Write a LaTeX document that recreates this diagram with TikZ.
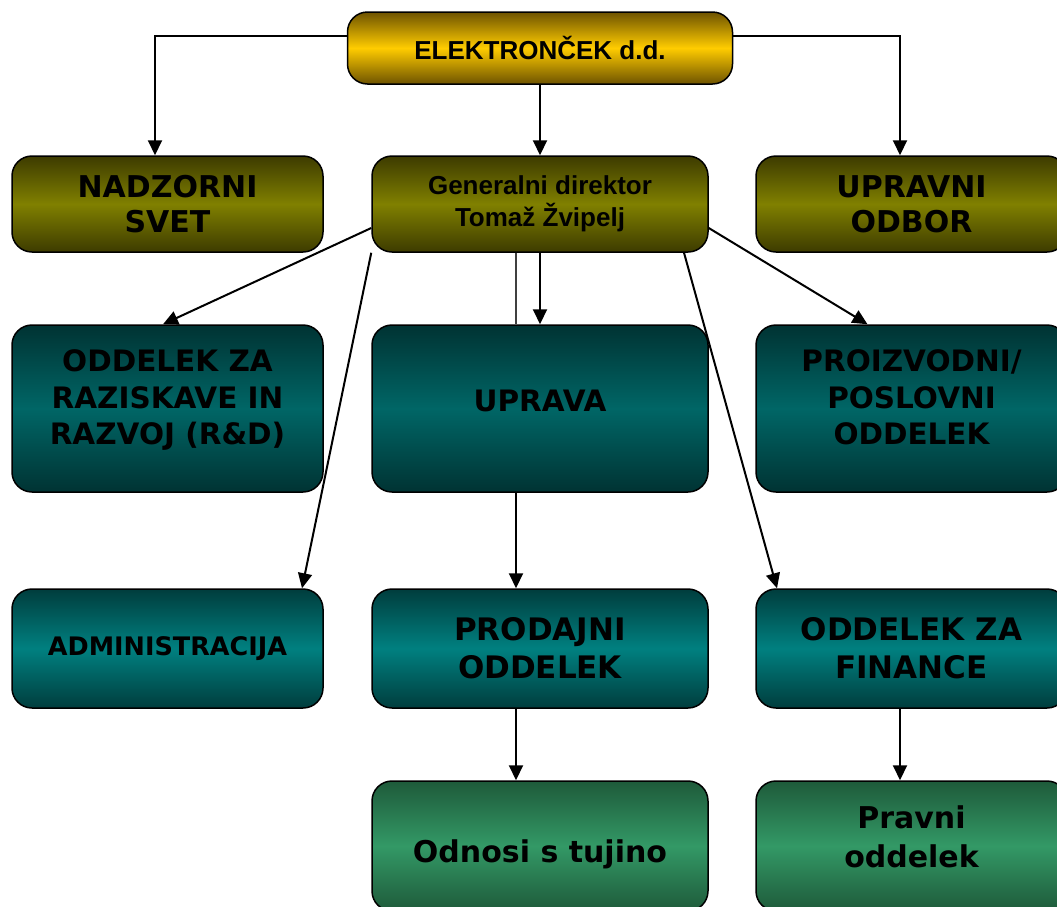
\documentclass[tikz,border=0pt]{standalone}
\usepackage{fontspec}
\setmainfont{DejaVu Sans}
\newfontfamily\arialbf{Liberation Sans}
\usetikzlibrary{arrows.meta,positioning}
\definecolor{goldmid}{HTML}{FFCC00}
\definecolor{goldedge}{HTML}{6E5300}
\definecolor{olivemid}{HTML}{808000}
\definecolor{oliveedge}{HTML}{3D3B00}
\definecolor{tealmid}{HTML}{006666}
\definecolor{tealedge}{HTML}{003333}
\definecolor{aquamid}{HTML}{008080}
\definecolor{aquaedge}{HTML}{003D3D}
\definecolor{greenmid}{HTML}{339966}
\definecolor{greenedge}{HTML}{1E5A3A}
\tikzset{
  box/.style={draw=black,line width=1.5pt,rounded corners=20pt,inner sep=0pt,align=center},
  firm/.style={box,top color=goldedge,bottom color=goldedge,middle color=goldmid,minimum width=385pt,minimum height=72pt,font=\arialbf\bfseries\fontsize{26}{30}\selectfont},
  board/.style={box,top color=oliveedge,bottom color=oliveedge,middle color=olivemid,minimum height=96pt,font=\bfseries\fontsize{30}{35}\selectfont},
  dept/.style={box,top color=tealedge,bottom color=tealedge,middle color=tealmid,minimum height=167pt,font=\bfseries\fontsize{29.5}{36.5}\selectfont},
  unit/.style={box,top color=aquaedge,bottom color=aquaedge,middle color=aquamid,minimum height=119pt,font=\bfseries\fontsize{31}{38}\selectfont},
  sub/.style={box,top color=greenedge,bottom color=greenedge,middle color=greenmid,minimum height=130pt,font=\bfseries\fontsize{30}{39}\selectfont},
  side/.style={minimum width=311pt},
  mid/.style={minimum width=336pt},
  arr/.style={line width=2pt,-{Triangle[length=15pt,width=14pt]}},
  thin/.style={line width=1.2pt,black!75}
}
\begin{document}
\begin{tikzpicture}[x=1pt,y=-1pt]
\useasboundingbox (0,0) rectangle (1057,906);
\clip (0,0) rectangle (1057,906);
% top
\node[firm] (firm) at (540,48) {ELEKTRONČEK d.d.};
% boards and director
\node[board,side] (nadz) at (167.5,204) {NADZORNI\\SVET};
\node[board,mid,font=\arialbf\bfseries\fontsize{26}{32}\selectfont] (gen) at (540,204) {Generalni direktor\\Tomaž Žvipelj};
\node[board,side] (odbor) at (911.5,204) {UPRAVNI\\ODBOR};
% departments
\node[dept,side] (rd) at (167.5,408.5) {ODDELEK ZA\\RAZISKAVE IN\\RAZVOJ (R\&D)\\[-14pt]\mbox{}};
\node[dept,mid] (upra) at (540,408.5) {UPRAVA\\[-20pt]\mbox{}};
\node[dept,side] (proiz) at (911.5,408.5) {PROIZVODNI/\\POSLOVNI\\ODDELEK\\[-14pt]\mbox{}};
\node[unit,side,font=\bfseries\fontsize{25.5}{30}\selectfont] (admin) at (167.5,648.5) {ADMINISTRACIJA};
\node[unit,mid] (prod) at (540,648.5) {PRODAJNI\\ODDELEK};
\node[unit,side] (fin) at (911.5,648.5) {ODDELEK ZA\\FINANCE};
\node[sub,mid] (odn) at (540,846) {\rule{0pt}{40pt}Odnosi s tujino};
\node[sub,side] (prav) at (911.5,846) {Pravni\\oddelek\\[-20pt]\mbox{}};
% connectors
\draw[arr] ([yshift=12pt]firm.west) -| ([xshift=-12.5pt]nadz.north);
\draw[arr] ([yshift=12pt]firm.east) -| ([xshift=-11.5pt]odbor.north);
\draw[arr] (firm.south) -- (gen.north);
\draw[arr] ([yshift=-24pt]gen.west) -- ([xshift=-4.5pt]rd.north);
\draw[arr] (gen.south west) -- ([xshift=134.5pt]admin.north);
\draw[thin] ([xshift=-24pt]gen.south) -- ([xshift=-24pt]upra.north);
\draw[arr] (gen.south) -- (upra.north);
\draw[arr] ([yshift=-24pt]gen.east) -- ([xshift=-44pt]proiz.north);
\draw[arr] ([xshift=144pt]gen.south) -- ([xshift=-134.5pt]fin.north);
\draw[arr] ([xshift=-24pt]upra.south) -- ([xshift=-24pt]prod.north);
\draw[arr] ([xshift=-24pt]prod.south) -- ([xshift=-24pt]odn.north);
\draw[arr] ([xshift=-11.5pt]fin.south) -- ([xshift=-11.5pt]prav.north);
\end{tikzpicture}
\end{document}
